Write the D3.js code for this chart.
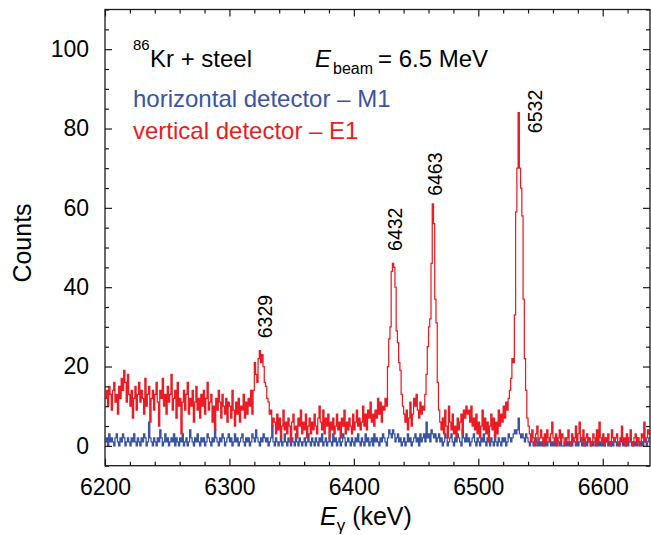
<!DOCTYPE html>
<html>
<head>
<meta charset="utf-8">
<script src="https://cdn.jsdelivr.net/npm/d3@7"></script>
<style>
  html, body { margin: 0; padding: 0; background: #fff; }
  svg { display: block; font-family: "Liberation Sans", Arial, Helvetica, sans-serif; }
</style>
</head>
<body>
<svg id="chart" width="651" height="535"></svg>
<script>
// ---------- data ----------
const binStart = 6200;          // keV, first bin
const binWidth = 1;             // keV per channel

// vertical detector – E1 (red), counts per 1-keV channel from 6200 keV
const verticalE1 = [
  12,14,10,15,13,9,14,16,11,13,
  8,15,12,17,14,19,16,11,18,13,
  10,14,7,12,15,9,13,16,11,14,
  12,8,17,10,13,15,6,12,14,9,
  13,16,11,5,14,12,17,10,13,8,
  15,11,13,18,9,12,14,7,16,10,
  12,3,11,14,9,13,16,8,12,10,
  14,6,11,15,9,12,7,13,10,14,
  8,12,16,9,11,13,6,10,4,12,
  9,14,11,7,13,10,8,12,6,11,
  10,7,14,9,5,11,8,12,6,10,
  9,13,7,11,8,12,10,14,
  8,14,21,18,16,22,24,21,23,20,16,15,12,11,8,9,5,7,
  6,3,8,4,7,2,5,9,4,6,
  3,7,5,1,6,8,4,5,2,7,
  5,9,3,6,4,8,2,5,7,3,
  6,4,8,5,3,7,10,6,4,9,
  3,7,5,8,2,6,4,7,3,5,
  8,4,6,2,7,5,9,3,6,4,
  7,5,3,8,4,6,9,5,7,4,
  6,10,5,8,4,9,7,11,6,8,
  5,9,7,12,8,11,6,10,
  9,12,10,20,27,30,44,46,45,40,29,26,21,19,13,10,8,
  6,9,4,7,11,5,8,12,10,13,9,7,11,8,10,
  9,13,18,25,30,32,46,61,56,37,31,16,9,6,
  4,7,3,9,5,2,10,6,4,8,
  3,5,2,7,4,6,8,3,9,7,
  10,8,9,6,10,5,7,4,8,3,
  6,2,5,9,4,7,3,6,1,5,
  8,4,7,2,6,3,9,5,8,6,
  10,7,11,9,12,
  14,17,22,21,33,59,70,84,70,65,58,37,22,14,7,5,
  3,1,4,2,0,3,5,1,2,4,
  2,0,3,1,4,2,1,3,6,2,
  1,3,0,2,4,1,3,2,0,1,
  2,4,1,0,3,1,2,5,1,3,
  6,2,1,4,0,2,3,1,2,0,
  1,3,2,0,4,1,6,2,1,3,
  0,2,1,3,1,0,4,2,1,2,
  3,1,0,2,5,1,2,0,3,1,
  2,4,1,0,2,3,1,2,0,1,
  3,2,6,1,2,4,3
];

// horizontal detector – M1 (blue)
const horizontalM1 = [
  1,2,0,3,1,2,1,0,2,3,
  1,0,2,1,3,2,0,1,2,1,
  0,2,1,3,1,0,2,1,0,2,
  1,3,2,0,1,6,2,1,0,2,
  1,0,2,1,4,2,0,1,3,1,
  2,0,1,2,1,3,0,2,1,0,
  2,1,3,0,1,2,0,1,4,2,
  1,0,2,1,3,1,0,2,1,2,
  0,1,3,2,1,0,2,1,4,2,
  1,0,2,1,3,2,0,1,2,3,
  1,2,0,1,3,1,2,0,1,2,
  3,1,0,2,1,2,0,1,3,2,
  1,4,2,1,0,2,1,3,2,1,
  2,0,1,2,5,1,0,2,1,0,
  1,2,0,1,3,1,0,2,1,0,
  2,1,0,3,1,0,2,1,0,1,
  2,0,1,3,1,0,2,1,0,2,
  1,0,2,1,3,0,1,2,0,1,
  2,1,0,3,1,2,0,1,2,0,
  1,3,2,0,1,2,1,0,2,1,
  0,2,1,3,1,0,2,1,0,3,
  1,2,0,1,2,0,3,1,2,1,
  0,2,1,3,2,1,0,2,4,3,
  2,4,3,1,2,3,1,2,0,1,
  2,0,1,3,1,2,0,1,2,3,
  1,2,0,3,1,2,3,1,6,2,
  3,1,4,3,2,3,1,2,3,1,
  2,0,1,3,2,0,1,2,3,1,
  0,2,1,3,2,1,0,4,2,1,
  3,1,2,0,1,2,3,1,0,2,
  1,0,2,1,3,1,0,2,1,0,
  2,1,0,3,1,0,2,1,0,2,
  1,2,0,1,3,2,1,2,3,4,
  3,4,7,3,2,3,2,1,3,2,
  1,0,2,1,0,1,2,0,1,0,
  1,0,2,0,1,0,1,2,0,1,
  0,1,0,2,1,0,1,0,0,1,
  2,0,1,0,1,0,2,1,0,1,
  0,1,2,0,1,0,1,0,2,1,
  0,1,0,1,2,0,1,0,1,0,
  1,0,2,1,0,1,0,1,0,2,
  1,0,1,0,2,1,0,1,0,1,
  0,1,2,0,1,0,1,0,2,1,
  0,1,0,2,1,0,1,2
];

const xDomain = [6200, 6638];
const yDomain = [-5, 110];
const xMajorTicks = [6200, 6300, 6400, 6500, 6600];
const yMajorTicks = [0, 20, 40, 60, 80, 100];

// peak annotations (energy label, anchor in data units)
const peakLabels = ["6329", "6432", "6463", "6532"];
const peakLabelE = [6334, 6438.4, 6470.6, 6551];
const peakLabelC = [32.6, 54.6, 68.5, 84.3];

// ---------- layout ----------
const svg = d3.select("#chart");
const L = 105, R = 650, T = 9.5, B = 465.7;
const RED = "#ed1c24", BLUE = "#3a54a4", INK = "#1a1a1a";

const x = d3.scaleLinear().domain(xDomain).range([L, R]);
const y = d3.scaleLinear().domain(yDomain).range([B, T]);

const xMinor = d3.range(6200, 6640, 20).filter(v => v % 100 !== 0);
const yMinor = d3.range(-5, 111, 5).filter(v => v % 20 !== 0);

svg.append("defs").append("clipPath").attr("id", "clip")
  .append("rect").attr("x", L).attr("y", T).attr("width", R - L).attr("height", B - T);

// spectra
function toPoints(arr) {
  const pts = arr.map((v, i) => [binStart + i * binWidth, v]);
  pts.push([binStart + arr.length * binWidth, arr[arr.length - 1]]);
  return pts;
}
const line = d3.line().x(d => x(d[0])).y(d => y(d[1])).curve(d3.curveStepAfter);
const g = svg.append("g").attr("clip-path", "url(#clip)");
g.append("path").datum(toPoints(horizontalM1)).attr("d", line)
  .attr("fill", "none").attr("stroke", BLUE).attr("stroke-width", 1.25);
g.append("path").datum(toPoints(verticalE1)).attr("d", line)
  .attr("fill", "none").attr("stroke", RED).attr("stroke-width", 1.25);

// axes
const fontTick = 23;
function styleAxis(sel) {
  sel.select(".domain").remove();
  sel.selectAll("line").attr("stroke", INK).attr("stroke-width", 1.2);
  sel.selectAll("text").attr("fill", "#000").style("font-size", fontTick + "px")
    .style("font-family", '"Liberation Sans", Arial, Helvetica, sans-serif');
}
// bottom
svg.append("g").attr("transform", `translate(0,${B})`)
  .call(d3.axisBottom(x).tickValues(xMajorTicks).tickSize(-7).tickPadding(12.5).tickFormat(d3.format("d")))
  .call(styleAxis);
svg.append("g").attr("transform", `translate(0,${B})`)
  .call(d3.axisBottom(x).tickValues(xMinor).tickSize(-4).tickFormat(""))
  .call(styleAxis);
// top
svg.append("g").attr("transform", `translate(0,${T})`)
  .call(d3.axisTop(x).tickValues(xMajorTicks).tickSize(-7).tickFormat(""))
  .call(styleAxis);
svg.append("g").attr("transform", `translate(0,${T})`)
  .call(d3.axisTop(x).tickValues(xMinor).tickSize(-4).tickFormat(""))
  .call(styleAxis);
// left
svg.append("g").attr("transform", `translate(${L},0)`)
  .call(d3.axisLeft(y).tickValues(yMajorTicks).tickSize(-7).tickPadding(16).tickFormat(d3.format("d")))
  .call(styleAxis);
svg.append("g").attr("transform", `translate(${L},0)`)
  .call(d3.axisLeft(y).tickValues(yMinor).tickSize(-4).tickFormat(""))
  .call(styleAxis);
// right
svg.append("g").attr("transform", `translate(${R},0)`)
  .call(d3.axisRight(y).tickValues(yMajorTicks).tickSize(-7).tickFormat(""))
  .call(styleAxis);
svg.append("g").attr("transform", `translate(${R},0)`)
  .call(d3.axisRight(y).tickValues(yMinor).tickSize(-4).tickFormat(""))
  .call(styleAxis);

// frame
svg.append("rect").attr("x", L).attr("y", T).attr("width", R - L).attr("height", B - T)
  .attr("fill", "none").attr("stroke", INK).attr("stroke-width", 1.3);

// axis titles
const xt = svg.append("text").attr("x", 320).attr("y", 525).attr("fill", "#000").style("font-size", "25px");
xt.append("tspan").text("E").style("font-style", "italic");
xt.append("tspan").text("γ").style("font-size", "17px").attr("dy", 6);
xt.append("tspan").text(" (keV)").attr("dy", -6);

svg.append("text").attr("transform", "translate(31,243) rotate(-90)")
  .attr("text-anchor", "middle").attr("fill", "#000").style("font-size", "25px").text("Counts");

// legend / annotations
svg.append("text").attr("x", 133).attr("y", 50).style("font-size", "15px").attr("fill", "#000").text("86");
svg.append("text").attr("x", 150).attr("y", 66.7).style("font-size", "24px").attr("fill", "#000").text("Kr + steel");
svg.append("text").attr("x", 315).attr("y", 66.7).style("font-size", "24px").style("font-style", "italic").attr("fill", "#000").text("E");
svg.append("text").attr("x", 333).attr("y", 74).style("font-size", "16px").attr("fill", "#000").text("beam");
svg.append("text").attr("x", 378).attr("y", 66.7).style("font-size", "24px").attr("fill", "#000").text("= 6.5 MeV");
svg.append("text").attr("x", 133).attr("y", 106.7).style("font-size", "24px").attr("fill", BLUE).text("horizontal detector – M1");
svg.append("text").attr("x", 133).attr("y", 139.3).style("font-size", "24px").attr("fill", RED).text("vertical detector – E1");

// peak labels
svg.append("g").selectAll("text").data(peakLabels).join("text")
  .attr("transform", (d, i) => `translate(${x(peakLabelE[i])},${y(peakLabelC[i])}) rotate(-90)`)
  .attr("text-anchor", "middle").attr("fill", "#000").style("font-size", "19.5px")
  .text(d => d);
</script>
</body>
</html>
